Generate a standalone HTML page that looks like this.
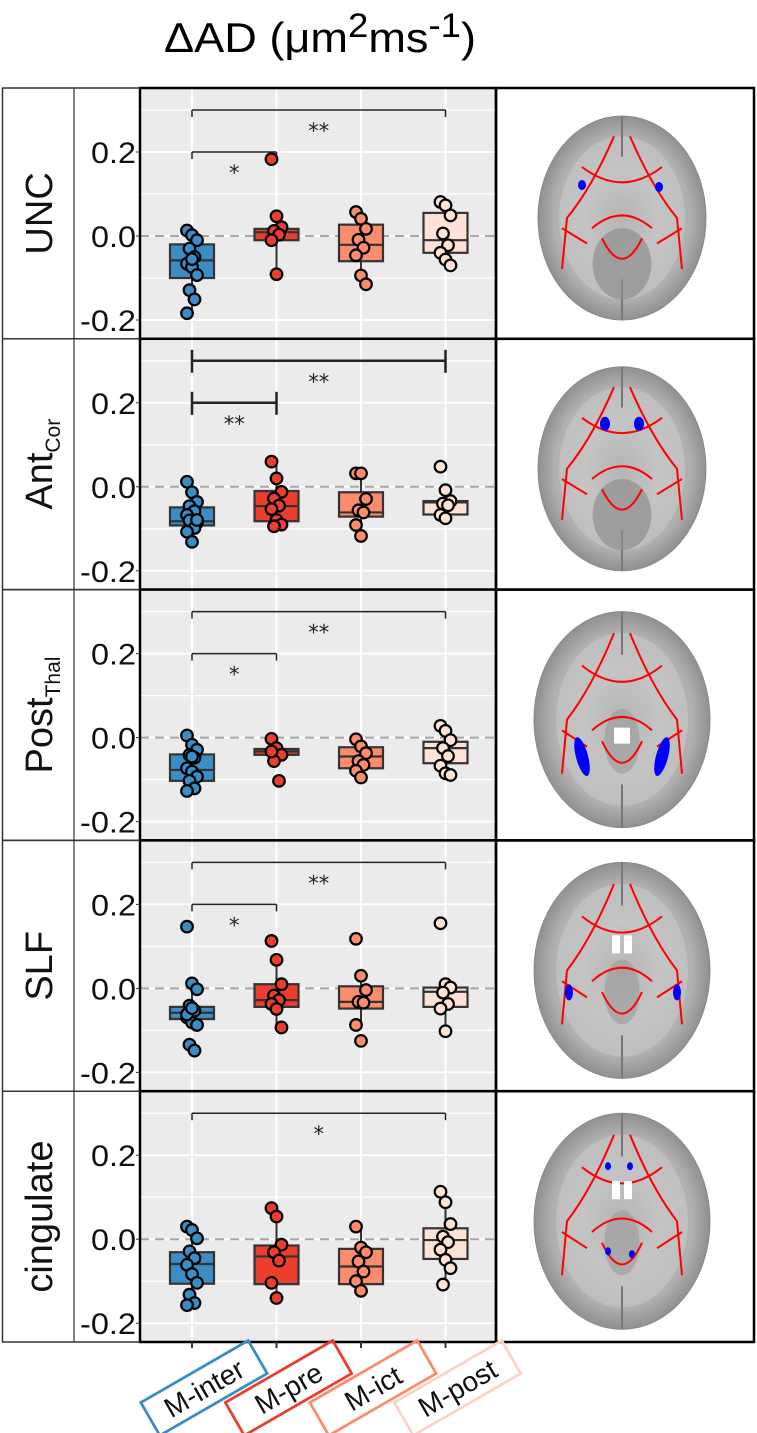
<!DOCTYPE html>
<html><head><meta charset="utf-8"><style>
html,body{margin:0;padding:0;background:#fff;}
svg{display:block;}
</style></head><body>
<svg id="fig" width="757" height="1433" viewBox="0 0 757 1433" xmlns="http://www.w3.org/2000/svg">
<defs>
<radialGradient id="brainGrad" cx="50%" cy="50%" r="50%">
<stop offset="0%" stop-color="#9a9a9a"/><stop offset="45%" stop-color="#bdbdbd"/><stop offset="80%" stop-color="#b0b0b0"/><stop offset="100%" stop-color="#909090"/>
</radialGradient>
</defs>
<text x="164" y="52" font-family="Liberation Sans, sans-serif" font-size="42" textLength="312" lengthAdjust="spacingAndGlyphs">ΔAD (μm<tspan dy="-15" font-size="34">2</tspan><tspan dy="15">ms</tspan><tspan dy="-15" font-size="34">-1</tspan><tspan dy="15">)</tspan></text>
<g id="rows"></g>
<g id="xlabels"></g>
</svg>
<script>
const groups = ['M-inter','M-pre','M-ict','M-post'];
const groupColors = ['#3a8dc5','#ec3e2d','#fb8c6c','#fde2d5'];
const groupEdge = ['#3a8dc5','#e8402f','#f98d6d','#fbd5c4'];
const regionNames = ['UNC','Ant','Post','SLF','cingulate'];
const regionSubs = ['','Cor','Thal','',''];
const yTicks = [-0.2, 0.0, 0.2];
const yTickLabels = ['-0.2','0.0','0.2'];
const yGrid = [-0.2,-0.1,0.0,0.1,0.2,0.3];
const q1 = [
 [-0.100,-0.010,-0.060,-0.040],
 [-0.092,-0.082,-0.071,-0.066],
 [-0.103,-0.041,-0.073,-0.061],
 [-0.073,-0.044,-0.048,-0.044],
 [-0.106,-0.107,-0.107,-0.047]];
const medians = [
 [-0.058,0.009,-0.021,-0.010],
 [-0.082,-0.046,-0.061,-0.037],
 [-0.077,-0.033,-0.045,-0.025],
 [-0.058,-0.028,-0.032,-0.008],
 [-0.059,-0.041,-0.065,-0.002]];
const q3 = [
 [-0.020,0.017,0.027,0.055],
 [-0.049,-0.010,-0.013,-0.034],
 [-0.040,-0.027,-0.023,-0.010],
 [-0.044,0.010,0.005,0.002],
 [-0.031,-0.015,-0.023,0.026]];
const whiskerLo = [
 [-0.184,-0.091,-0.115,-0.070],
 [-0.131,-0.094,-0.117,-0.075],
 [-0.127,-0.056,-0.095,-0.089],
 [-0.087,-0.093,-0.087,-0.102],
 [-0.157,-0.140,-0.123,-0.108]];
const whiskerHi = [
 [0.013,0.047,0.057,0.081],
 [0.012,0.060,0.032,-0.008],
 [0.005,-0.003,-0.004,0.028],
 [0.012,0.068,0.030,0.010],
 [0.030,0.074,0.030,0.113]];
const points = [
 [[0.013,0.002,-0.010,-0.030,-0.050,-0.066,-0.074,-0.093,-0.129,-0.151,-0.184,-0.055],
  [0.183,0.047,0.021,0.012,0.003,-0.010,-0.091],
  [0.057,0.041,0.017,-0.009,-0.028,-0.046,-0.094,-0.115],
  [0.081,0.073,0.049,0.006,-0.022,-0.040,-0.056,-0.070]],
 [[0.012,-0.013,-0.036,-0.046,-0.058,-0.067,-0.082,-0.086,-0.080,-0.098,-0.107,-0.131,-0.079],
  [0.060,0.020,-0.012,-0.028,-0.045,-0.053,-0.079,-0.090,-0.094],
  [0.032,0.032,-0.029,-0.056,-0.061,-0.091,-0.117],
  [0.048,-0.008,-0.034,-0.040,-0.044,-0.067,-0.075]],
 [[0.005,-0.017,-0.029,-0.041,-0.048,-0.073,-0.081,-0.093,-0.103,-0.121,-0.127,-0.045],
  [-0.003,-0.025,-0.041,-0.056,-0.103,-0.033],
  [-0.004,-0.021,-0.037,-0.056,-0.065,-0.079,-0.095],
  [0.028,0.016,-0.006,-0.025,-0.044,-0.067,-0.085,-0.089]],
 [[0.147,0.012,-0.002,-0.041,-0.053,-0.069,-0.081,-0.087,-0.134,-0.148,-0.062,-0.047],
  [0.113,0.068,0.010,-0.017,-0.028,-0.037,-0.049,-0.093],
  [0.118,0.030,-0.004,-0.032,-0.034,-0.087,-0.125],
  [0.155,0.010,0.002,-0.010,-0.037,-0.048,-0.102]],
 [[0.030,0.022,0.002,-0.029,-0.045,-0.061,-0.083,-0.104,-0.132,-0.152,-0.157],
  [0.074,0.054,-0.013,-0.031,-0.051,-0.104,-0.140],
  [0.030,-0.020,-0.031,-0.053,-0.077,-0.100,-0.123],
  [0.113,0.088,0.036,0.006,-0.007,-0.025,-0.049,-0.069,-0.108]]];
const sigLong = ['**','**','**','**','*'];
const sigShort = ['*','**','*','*',''];

const NS = 'http://www.w3.org/2000/svg';
const ROW0 = 88, ROWH = 250.8, PL = 140, PR = 496;
function rowTop(r){ return ROW0 + r*ROWH; }
function yS(v, r){ return rowTop(r) + 148 - v*420; }
function xS(g){ return 192 + g*84.5; }
function mk(tag, attrs, parent){
  const e = document.createElementNS(NS, tag);
  for (const k in attrs) e.setAttribute(k, attrs[k]);
  parent.appendChild(e); return e;
}
const rowsG = document.getElementById('rows');

function drawBrain(r, parent){
  const cx = 622, cy = rowTop(r) + 130;
  const g = mk('g', {}, parent);
  
  
  const rx = r < 2 ? 84 : 88, ry = r < 2 ? 102 : 108;
  mk('ellipse', {cx:cx, cy:cy, rx:rx, ry:ry, fill:'url(#brainGrad)', stroke:'#8a8a8a', 'stroke-width':1}, g);
  mk('ellipse', {cx:cx, cy:cy, rx:rx*0.75, ry:ry*0.8, fill:'#c8c8c8', opacity:0.6}, g);
  mk('line', {x1:cx, y1:cy-ry, x2:cx, y2:cy-ry*0.6, stroke:'#777', 'stroke-width':2}, g);
  mk('line', {x1:cx, y1:cy+ry*0.6, x2:cx, y2:cy+ry, stroke:'#777', 'stroke-width':2}, g);
  if (r < 2) mk('ellipse', {cx:cx, cy:cy+ry*0.45, rx:rx*0.35, ry:ry*0.35, fill:'#8f8f8f', opacity:0.7}, g);
  else mk('ellipse', {cx:cx, cy:cy+ry*0.2, rx:rx*0.2, ry:ry*0.3, fill:'#999', opacity:0.6}, g);
  const s = {fill:'none', stroke:'#f00', 'stroke-width':2};
  const paths = [
    `M${cx-8},${cy-ry*0.8} Q${cx-30},${cy-ry*0.3} ${cx-55},${cy} L${cx-60},${cy+ry*0.5}`,
    `M${cx+8},${cy-ry*0.8} Q${cx+30},${cy-ry*0.3} ${cx+55},${cy} L${cx+60},${cy+ry*0.5}`,
    `M${cx-40},${cy-ry*0.5} Q${cx},${cy-ry*0.2} ${cx+40},${cy-ry*0.5}`,
    `M${cx-30},${cy+ry*0.1} Q${cx},${cy-ry*0.15} ${cx+30},${cy+ry*0.1}`,
    `M${cx-60},${cy+ry*0.1} L${cx-35},${cy+ry*0.25}`,
    `M${cx+60},${cy+ry*0.1} L${cx+35},${cy+ry*0.25}`,
    `M${cx-20},${cy+ry*0.2} Q${cx},${cy+ry*0.6} ${cx+20},${cy+ry*0.2}`
  ];
  paths.forEach(d => mk('path', Object.assign({d:d}, s), g));
  const blue = {fill:'#0000ff'};
  if (r === 0) { mk('ellipse', Object.assign({cx:cx-40, cy:cy-33, rx:4, ry:5}, blue), g); mk('ellipse', Object.assign({cx:cx+37, cy:cy-31, rx:4, ry:5}, blue), g); }
  if (r === 1) { mk('ellipse', Object.assign({cx:cx-17, cy:cy-45, rx:5, ry:7}, blue), g); mk('ellipse', Object.assign({cx:cx+17, cy:cy-45, rx:5, ry:7}, blue), g); }
  if (r === 2) { mk('ellipse', Object.assign({cx:cx-40, cy:cy+37, rx:6, ry:20, transform:`rotate(-15 ${cx-40} ${cy+37})`}, blue), g); mk('ellipse', Object.assign({cx:cx+40, cy:cy+37, rx:6, ry:20, transform:`rotate(15 ${cx+40} ${cy+37})`}, blue), g);
    mk('rect', {x:cx-8, y:cy+8, width:16, height:16, fill:'#fff'}, g); }
  if (r === 3) { mk('ellipse', Object.assign({cx:cx-53, cy:cy+22, rx:4, ry:8}, blue), g); mk('ellipse', Object.assign({cx:cx+55, cy:cy+22, rx:4, ry:8}, blue), g);
    mk('rect', {x:cx-10, y:cy-35, width:8, height:18, fill:'#fff'}, g); mk('rect', {x:cx+2, y:cy-35, width:8, height:18, fill:'#fff'}, g); }
  if (r === 4) { [[-14,-55],[8,-55],[-14,30],[10,33]].forEach(p => mk('ellipse', Object.assign({cx:cx+p[0], cy:cy+p[1], rx:3, ry:4}, blue), g));
    mk('rect', {x:cx-10, y:cy-40, width:8, height:18, fill:'#fff'}, g); mk('rect', {x:cx+2, y:cy-40, width:8, height:18, fill:'#fff'}, g); }
}

for (let r = 0; r < 5; r++) {
  const top = rowTop(r), bot = rowTop(r+1);
  const row = mk('g', {}, rowsG);
  
  
  const bg = mk('rect', {x:PL, y:top, width:PR-PL, height:ROWH, fill:'#ebebeb'}, row);
  
  
  yGrid.forEach(v => { const ln = mk('line', {x1:PL, x2:PR, y1:yS(v,r), y2:yS(v,r), stroke:'#fff', 'stroke-width': (Math.abs(v*10)%2<0.01)?2:1.3}, row);
    
     });
  groups.forEach((g,i) => mk('line', {x1:xS(i), x2:xS(i), y1:top, y2:bot, stroke:'#fff', 'stroke-width':2}, row));
  const zl = mk('line', {x1:PL, x2:PR, y1:yS(0,r), y2:yS(0,r), stroke:'#a6a6a6', 'stroke-width':2, 'stroke-dasharray':'9,6'}, row);
  
  
  yTicks.forEach((v,k) => {
    mk('line', {x1:PL-4, x2:PL, y1:yS(v,r), y2:yS(v,r), stroke:'#333', 'stroke-width':1}, row);
    const lbl = yTickLabels[k];
    const t = mk('text', {x:PL-4, y:yS(v,r)+11, 'text-anchor':'end', 'font-family':'Liberation Sans, sans-serif', 'font-size':30, fill:'#111', textLength: lbl.length > 3 ? 56 : 45, lengthAdjust:'spacingAndGlyphs'}, row);
    
    
    t.textContent = lbl;
  });
  groups.forEach((gname, i) => {
    const bx = mk('g', {}, row);
    
    
    const x = xS(i);
    mk('line', {x1:x, x2:x, y1:yS(whiskerHi[r][i],r), y2:yS(q3[r][i],r), stroke:'#333', 'stroke-width':2}, bx);
    mk('line', {x1:x, x2:x, y1:yS(q1[r][i],r), y2:yS(whiskerLo[r][i],r), stroke:'#333', 'stroke-width':2}, bx);
    mk('rect', {x:x-22, y:yS(q3[r][i],r), width:44, height:yS(q1[r][i],r)-yS(q3[r][i],r), fill:groupColors[i], stroke:'#333', 'stroke-width':2.2}, bx);
    mk('line', {x1:x-22, x2:x+22, y1:yS(medians[r][i],r), y2:yS(medians[r][i],r), stroke:'#333', 'stroke-width':2.2}, bx);
    points[r][i].forEach((v, j) => {
      const jit = ((j*7)%5 - 2) * 2.5;
      const c = mk('circle', {cx:x+jit, cy:yS(v,r), r:5.8, fill:groupColors[i], stroke:'#000', 'stroke-width':2.2}, bx);
      
      
    });
  });
  const bw = r === 1 ? 2.5 : 1.5;
  const drawBr = (g2, v, lbl, name) => {
    const bg2 = mk('g', {}, row);
    
    
    const y = yS(v, r), x1 = xS(0), x2 = xS(g2);
    const up = r === 1 ? 11 : 0;
    mk('line', {x1:x1, x2:x2, y1:y, y2:y, stroke:'#222', 'stroke-width':bw}, bg2);
    mk('line', {x1:x1, x2:x1, y1:y-up, y2:y+(r===1?12:7), stroke:'#222', 'stroke-width':bw}, bg2);
    mk('line', {x1:x2, x2:x2, y1:y-up, y2:y+(r===1?12:7), stroke:'#222', 'stroke-width':bw}, bg2);
    const t = mk('text', {x:(x1+x2)/2, y:y+28, 'text-anchor':'middle', 'font-family':'DejaVu Sans, sans-serif', 'font-size':21, fill:'#222'}, bg2);
    t.textContent = lbl;
  };
  drawBr(3, 0.3, sigLong[r], 'significance-bracket-long');
  if (sigShort[r]) drawBr(1, 0.2, sigShort[r], 'significance-bracket-short');
  const lx = 52, ly = top + ROWH/2;
  const lab = mk('text', {x:lx, y:ly, transform:`rotate(-90 ${lx} ${ly})`, 'text-anchor':'middle', 'font-family':'Liberation Sans, sans-serif', 'font-size':38, fill:'#111'}, row);
  
  
  lab.textContent = regionNames[r];
  if (regionSubs[r]) { const ts = mk('tspan', {'font-size':21, dy:8}, lab); ts.textContent = regionSubs[r]; }
  drawBrain(r, row);
  mk('rect', {x:PL, y:top, width:PR-PL, height:ROWH, fill:'none', stroke:'#000', 'stroke-width':2.5}, row);
  mk('rect', {x:PR, y:top, width:754-PR, height:ROWH, fill:'none', stroke:'#000', 'stroke-width':2.5}, row);
  mk('line', {x1:2, x2:PL, y1:top, y2:top, stroke:'#333', 'stroke-width':1.5}, row);
  mk('line', {x1:2, x2:PL, y1:bot, y2:bot, stroke:'#333', 'stroke-width':1.5}, row);
}
mk('line', {x1:2.5, x2:2.5, y1:ROW0, y2:rowTop(5), stroke:'#333', 'stroke-width':1.5}, rowsG);
mk('line', {x1:74, x2:74, y1:ROW0, y2:rowTop(5), stroke:'#333', 'stroke-width':1.2}, rowsG);

const xl = document.getElementById('xlabels');
groups.forEach((gname, i) => {
  const x = xS(i), yb = rowTop(5);
  mk('line', {x1:x, x2:x, y1:yb, y2:yb+6, stroke:'#333', 'stroke-width':2}, xl);
  const cx = x + 12, cy = yb + 46;
  const g = mk('g', {transform:`rotate(-30 ${cx} ${cy})`}, xl);
  
  
  mk('rect', {x:cx-62, y:cy-19, width:124, height:38, fill:'none', stroke:groupEdge[i], 'stroke-width':2.8}, g);
  const t = mk('text', {x:cx, y:cy+10, 'text-anchor':'middle', 'font-family':'Liberation Sans, sans-serif', 'font-size':28, fill:'#111'}, g);
  t.textContent = gname;
});
</script>
</body></html>
